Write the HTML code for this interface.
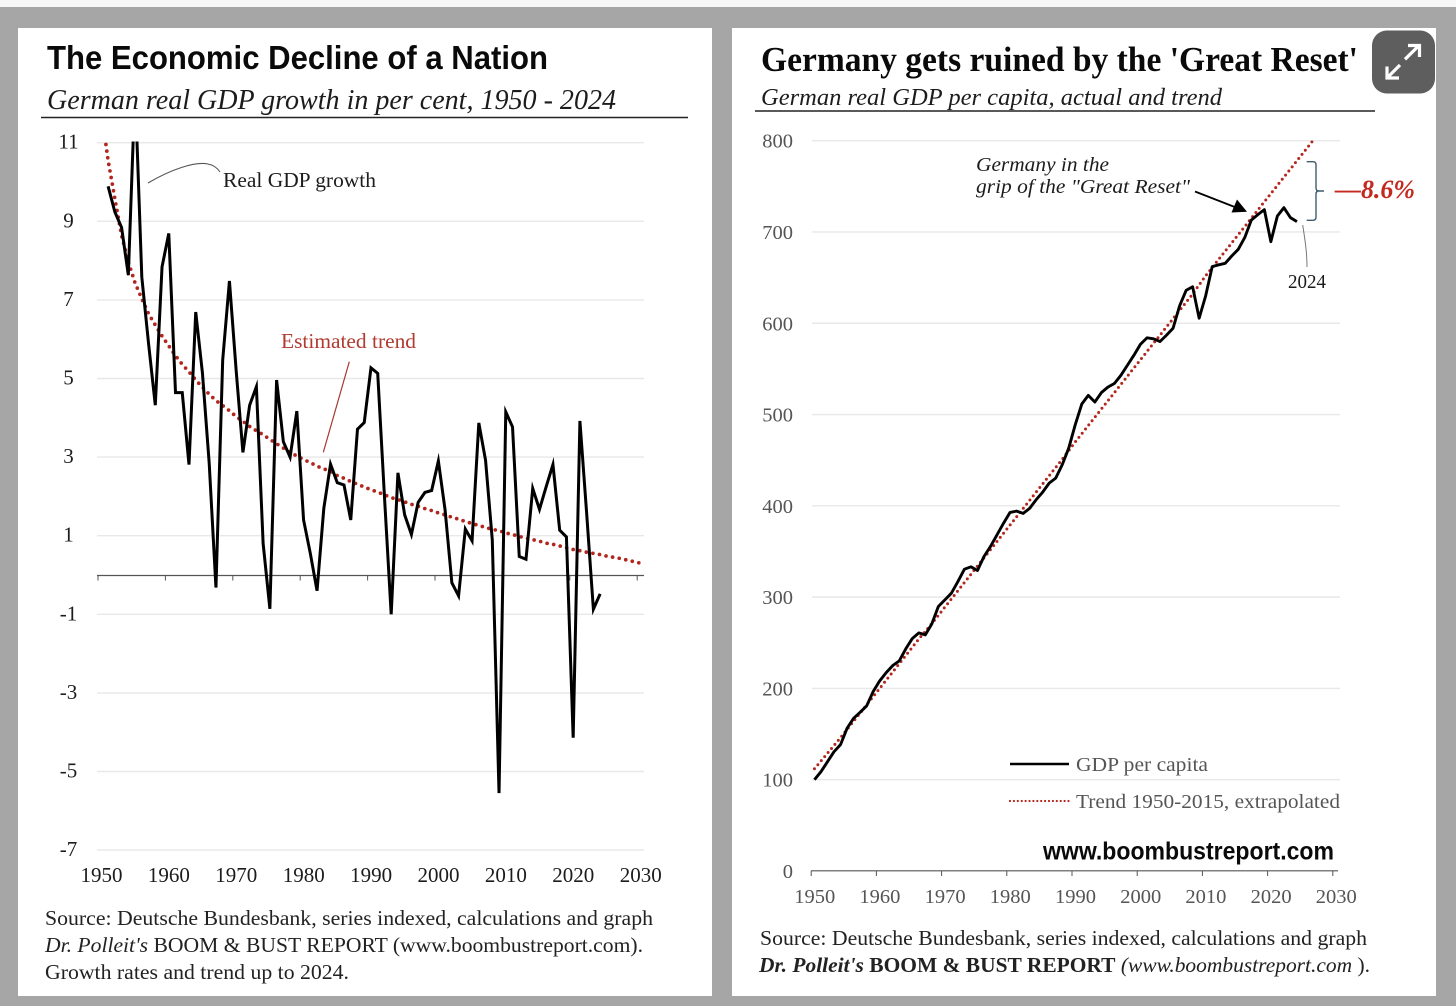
<!DOCTYPE html>
<html lang="en">
<head>
<meta charset="utf-8">
<title>German GDP charts</title>
<style>
html,body{margin:0;padding:0;background:#a6a6a6;}
svg{display:block;}
text{font-family:"Liberation Serif",serif;fill:#1c1c1c;}
.sans{font-family:"Liberation Sans",sans-serif;}
.tick{font-size:21px;}
.tickr{font-size:20.5px;fill:#555;}
.src{font-size:21px;fill:#222;}
</style>
</head>
<body>
<svg id="root" xmlns="http://www.w3.org/2000/svg" width="1456" height="1006" viewBox="0 0 1456 1006">
  <defs>
    <clipPath id="clip-left"><rect x="90" y="141.5" width="560" height="720"/></clipPath>
    <clipPath id="clip-right"><rect x="805" y="140.5" width="540" height="735"/></clipPath>
  </defs>
  <rect x="0" y="0" width="1456" height="1006" fill="#a6a6a6"/>
  <rect x="0" y="0" width="1456" height="7" fill="#f7f7f7"/>
  <rect x="18" y="28" width="694" height="968" fill="#fff"/>
  <rect x="732" y="28" width="704" height="968" fill="#fff"/>

  <text class="sans" x="47" y="69" font-size="33" font-weight="700" textLength="501" lengthAdjust="spacingAndGlyphs" style="fill:#0a0a0a">The Economic Decline of a Nation</text>
  <text x="47" y="109" font-size="28" font-style="italic" textLength="569" lengthAdjust="spacingAndGlyphs">German real GDP growth in per cent, 1950 - 2024</text>
  <line x1="41" y1="117.5" x2="688" y2="117.5" stroke="#222" stroke-width="1.5"/>

  <text x="761" y="71" font-size="35" font-weight="700" textLength="597" lengthAdjust="spacingAndGlyphs" style="fill:#0a0a0a">Germany gets ruined by the 'Great Reset'</text>
  <text x="761" y="105" font-size="24" font-style="italic" textLength="461" lengthAdjust="spacingAndGlyphs">German real GDP per capita, actual and trend</text>
  <line x1="755" y1="111" x2="1375" y2="111" stroke="#222" stroke-width="1.5"/>

  <g id="left-chart"></g>
  <g id="right-chart"></g>

  <path d="M148 183 C170 170 195 161 208 164 C214 165 218 169 220 172" fill="none" stroke="#555" stroke-width="1.1"/>
  <text x="223" y="187" font-size="21" textLength="153" lengthAdjust="spacingAndGlyphs">Real GDP growth</text>
  <text x="281" y="348" font-size="21" textLength="135" lengthAdjust="spacingAndGlyphs" style="fill:#b13a30">Estimated trend</text>
  <line x1="349.3" y1="361.7" x2="323.3" y2="452.3" stroke="#a8392f" stroke-width="1.2"/>

  <text class="src" x="45" y="925" textLength="608" lengthAdjust="spacingAndGlyphs">Source: Deutsche Bundesbank, series indexed, calculations and graph</text>
  <text class="src" x="45" y="952" textLength="598" lengthAdjust="spacingAndGlyphs"><tspan font-style="italic">Dr. Polleit's</tspan>  BOOM &amp; BUST REPORT (www.boombustreport.com).</text>
  <text class="src" x="45" y="979" textLength="304" lengthAdjust="spacingAndGlyphs">Growth rates and trend up to 2024.</text>

  <text x="976" y="171" font-size="20" font-style="italic" textLength="133" lengthAdjust="spacingAndGlyphs">Germany in the</text>
  <text x="976" y="193" font-size="20" font-style="italic" textLength="214" lengthAdjust="spacingAndGlyphs">grip of the "Great Reset"</text>
  <line x1="1195" y1="191.5" x2="1236" y2="207.5" stroke="#000" stroke-width="1.8"/>
  <polygon points="1247,211.7 1231.5,212.5 1237,199.5" fill="#000"/>
  <path d="M1306.7 161.7 H1313 Q1316 161.7 1316 165 V188 Q1316 191 1319 191 H1324 H1319 Q1316 191 1316 194 V217 Q1316 220.3 1313 220.3 H1306.7" fill="none" stroke="#3f5c6e" stroke-width="1.4"/>
  <text x="1335" y="198" font-size="26" font-weight="700" font-style="italic" textLength="80" lengthAdjust="spacingAndGlyphs" style="fill:#c4291f">—8.6%</text>
  <path d="M1302.7 225 C1305 240 1307 252 1307 267" fill="none" stroke="#777" stroke-width="1"/>
  <text x="1288" y="288" font-size="19.5" textLength="38" lengthAdjust="spacingAndGlyphs">2024</text>

  <line x1="1010" y1="764" x2="1069" y2="764" stroke="#000" stroke-width="2.6"/>
  <text x="1076" y="771" font-size="20.5" textLength="132" lengthAdjust="spacingAndGlyphs" style="fill:#555">GDP per capita</text>
  <line x1="1010" y1="801" x2="1069" y2="801" stroke="#b3261e" stroke-width="2.2" stroke-linecap="round" stroke-dasharray="0 3.9"/>
  <text x="1076" y="808" font-size="20.5" textLength="264" lengthAdjust="spacingAndGlyphs" style="fill:#555">Trend 1950-2015, extrapolated</text>
  <text class="sans" x="1043" y="859.5" font-size="25" font-weight="700" textLength="291" lengthAdjust="spacingAndGlyphs" style="fill:#0a0a0a">www.boombustreport.com</text>

  <text class="src" x="760" y="945" textLength="607" lengthAdjust="spacingAndGlyphs">Source: Deutsche Bundesbank, series indexed, calculations and graph</text>
  <text class="src" x="759" y="972" textLength="611" lengthAdjust="spacingAndGlyphs"><tspan font-weight="700" font-style="italic">Dr. Polleit's</tspan> <tspan font-weight="700"> BOOM &amp; BUST REPORT</tspan> <tspan font-style="italic">(www.boombustreport.com</tspan> ).</text>

  <g>
    <rect x="1372" y="30.5" width="63" height="63" rx="15" fill="#5e5e5e"/>
    <path d="M1405 59.3 L1419 45.5 M1408 45.5 H1419.5 V57 M1400 65 L1387 78 M1387 66.5 V78 H1399" fill="none" stroke="#fff" stroke-width="3.2"/>
  </g>

<script>
// ---------- left chart data ----------
const growthYears = [1951,1952,1953,1954,1955,1956,1957,1958,1959,1960,1961,1962,1963,1964,1965,1966,1967,1968,1969,1970,1971,1972,1973,1974,1975,1976,1977,1978,1979,1980,1981,1982,1983,1984,1985,1986,1987,1988,1989,1990,1991,1992,1993,1994,1995,1996,1997,1998,1999,2000,2001,2002,2003,2004,2005,2006,2007,2008,2009,2010,2011,2012,2013,2014,2015,2016,2017,2018,2019,2020,2021,2022,2023,2024];
const growthValues = [9.89,9.24,8.84,7.63,12.4,7.58,5.89,4.32,7.84,8.69,4.64,4.64,2.81,6.69,5.13,2.84,-0.32,5.47,7.48,5.2,3.12,4.32,4.79,0.8,-0.86,4.96,3.39,3.0,4.17,1.4,0.55,-0.4,1.69,2.82,2.35,2.29,1.4,3.71,3.88,5.27,5.13,2.0,-1.0,2.6,1.53,1.03,1.85,2.1,2.15,2.9,1.65,-0.2,-0.53,1.17,0.87,3.87,2.92,0.89,-5.55,4.15,3.77,0.47,0.4,2.2,1.67,2.25,2.81,1.14,0.97,-4.14,3.92,1.57,-0.87,-0.48];
const growthTrendYears = [1950,1951,1952,1953,1954,1955,1956,1957,1958,1959,1960,1961,1962,1963,1964,1965,1966,1967,1968,1969,1970,1971,1972,1973,1974,1975,1976,1977,1978,1979,1980,1981,1982,1983,1984,1985,1986,1987,1988,1989,1990,1991,1992,1993,1994,1995,1996,1997,1998,1999,2000,2001,2002,2003,2004,2005,2006,2007,2008,2009,2010,2011,2012,2013,2014,2015,2016,2017,2018,2019,2020,2021,2022,2023,2024,2025,2026,2027,2028,2029,2030];
const growthTrendValues = [11.8,10.55,9.58,8.64,7.97,7.43,7.03,6.65,6.36,6.08,5.83,5.58,5.36,5.17,4.96,4.78,4.6,4.44,4.31,4.18,4.03,3.91,3.78,3.67,3.57,3.45,3.34,3.23,3.12,3.03,2.94,2.86,2.77,2.7,2.64,2.53,2.46,2.38,2.31,2.24,2.17,2.11,2.04,1.97,1.92,1.86,1.8,1.75,1.69,1.64,1.58,1.53,1.47,1.42,1.36,1.31,1.26,1.21,1.16,1.13,1.07,1.03,0.98,0.94,0.9,0.86,0.81,0.78,0.74,0.69,0.65,0.62,0.58,0.55,0.52,0.48,0.45,0.42,0.38,0.34,0.3];
const leftYTicks = [11,9,7,5,3,1,-1,-3,-5,-7];
const leftXTicks = [1950,1960,1970,1980,1990,2000,2010,2020,2030];

// ---------- right chart data ----------
const capitaYears = [1950,1951,1952,1953,1954,1955,1956,1957,1958,1959,1960,1961,1962,1963,1964,1965,1966,1967,1968,1969,1970,1971,1972,1973,1974,1975,1976,1977,1978,1979,1980,1981,1982,1983,1984,1985,1986,1987,1988,1989,1990,1991,1992,1993,1994,1995,1996,1997,1998,1999,2000,2001,2002,2003,2004,2005,2006,2007,2008,2009,2010,2011,2012,2013,2014,2015,2016,2017,2018,2019,2020,2021,2022,2023,2024];
const capitaValues = [100,108.8,119.7,130.7,138.4,156.3,167.3,173.8,180.8,196.5,208.2,217.3,225,230.1,243.3,254.6,260.8,258.6,270.7,289.7,297,304.3,317.1,330.6,333.2,329.2,344.5,355.5,368.3,381,392.8,394.2,391.7,397.2,406.7,415,424.9,430.4,445,463.3,488.9,511.5,521,513.7,524,530,534,543,554,565,577,584,583,580,587,594.5,619,636,640,605.5,630,662,664,665.7,673.7,681,694,713,719,724.5,689.4,717.5,726.6,715.7,711.3];
const capitaTrendYears = [1950,1952,1954,1956,1958,1960,1962,1964,1966,1968,1970,1972,1974,1976,1978,1980,1982,1984,1986,1988,1990,1992,1994,1996,1998,2000,2002,2004,2006,2008,2010,2012,2014,2016,2018,2020,2022,2024,2026,2028];
const capitaTrendValues = [112,129,146,164,182,200,218,236,254,271,289,307,325,343,361,379,397,415,433,451,470,488,506,524,542,560,578,596,614,632,652,670,688,706,724,742,760,778,796,814];
const rightYTicks = [800,700,600,500,400,300,200,100,0];
const rightXTicks = [1950,1960,1970,1980,1990,2000,2010,2020,2030];

// ---------- axis functions ----------
const SVGNS = 'http://www.w3.org/2000/svg';
function leftX(year){ return 98 + (year - 1950 + 0.5) * 6.74; }
function leftXTick(year){ return 98 + (year - 1950) * 6.74; }
function leftY(v){ return 575 - v * 39.3; }
function rightX(year){ return 811.2 + (year - 1950 + 0.5) * 6.52; }
function rightXTick(year){ return 811.2 + (year - 1950) * 6.52; }
function rightY(v){ return 871 - v * 0.9129; }
function pathOf(xs, ys, fx, fy){
  return xs.map(function(x, i){ return (i ? 'L' : 'M') + fx(x).toFixed(2) + ' ' + fy(ys[i]).toFixed(2); }).join(' ');
}
function mk(parent, tag){
  const el = document.createElementNS(SVGNS, tag);
  parent.appendChild(el);
  return el;
}
function setAll(el, props){
  Object.keys(props).forEach(function(k){ el.setAttribute(k, props[k]); });
}

// ---------- left chart ----------
const L = document.getElementById('left-chart');
leftYTicks.forEach(function(v){
  const g = mk(L, 'line');
  setAll(g, {x1:97, x2:644, y1:leftY(v), y2:leftY(v), stroke:'#e8e8e8', 'stroke-width':1.4});
  
  
  const t = mk(L, 'text');
  setAll(t, {x:68.5, y:leftY(v) + 6, 'text-anchor':'middle', class:'tick'});
  
  
  t.textContent = String(v);
});
const leftAxis = mk(L, 'line');
setAll(leftAxis, {x1:97, x2:644, y1:575.5, y2:575.5, stroke:'#555', 'stroke-width':1.2});


leftXTicks.forEach(function(yr){
  const m = mk(L, 'line');
  setAll(m, {x1:leftXTick(yr), x2:leftXTick(yr), y1:575.5, y2:580.5, stroke:'#555', 'stroke-width':1});
  
  
  const t = mk(L, 'text');
  setAll(t, {x:leftXTick(yr) + 3.5, y:882, 'text-anchor':'middle', class:'tick'});
  
  
  t.textContent = String(yr);
});
const leftTrend = mk(L, 'path');
setAll(leftTrend, {d:pathOf(growthTrendYears, growthTrendValues, leftX, leftY), fill:'none', stroke:'#b3261e', 'stroke-width':3.7, 'stroke-linecap':'round', 'stroke-dasharray':'0 6.7', 'clip-path':'url(#clip-left)'});


const leftLine = mk(L, 'path');
setAll(leftLine, {d:pathOf(growthYears, growthValues, leftX, leftY), fill:'none', stroke:'#000', 'stroke-width':3, 'stroke-linejoin':'miter', 'stroke-miterlimit':6, 'clip-path':'url(#clip-left)'});



// ---------- right chart ----------
const R = document.getElementById('right-chart');
rightYTicks.forEach(function(v){
  if (v > 0) {
    const g = mk(R, 'line');
    setAll(g, {x1:812, x2:1340, y1:rightY(v), y2:rightY(v), stroke:'#e8e8e8', 'stroke-width':1.4});
    
    
  }
  const t = mk(R, 'text');
  setAll(t, {x:793, y:rightY(v) + 7, 'text-anchor':'end', class:'tickr'});
  
  
  t.textContent = String(v);
});
const rightAxis = mk(R, 'line');
setAll(rightAxis, {x1:811, x2:1338, y1:870.8, y2:870.8, stroke:'#555', 'stroke-width':1.2});


rightXTicks.forEach(function(yr){
  const m = mk(R, 'line');
  setAll(m, {x1:rightXTick(yr), x2:rightXTick(yr), y1:870.8, y2:876, stroke:'#555', 'stroke-width':1});
  
  
  const t = mk(R, 'text');
  setAll(t, {x:rightXTick(yr) + 3.5, y:903, 'text-anchor':'middle', class:'tickr'});
  
  
  t.textContent = String(yr);
});
const rightTrend = mk(R, 'path');
setAll(rightTrend, {d:pathOf(capitaTrendYears, capitaTrendValues, rightX, rightY), fill:'none', stroke:'#b3261e', 'stroke-width':3, 'stroke-linecap':'round', 'stroke-dasharray':'0 5.3', 'clip-path':'url(#clip-right)'});


const rightLine = mk(R, 'path');
setAll(rightLine, {d:pathOf(capitaYears, capitaValues, rightX, rightY), fill:'none', stroke:'#000', 'stroke-width':2.9, 'stroke-linejoin':'round', 'clip-path':'url(#clip-right)'});


</script>
</svg>
</body>
</html>
